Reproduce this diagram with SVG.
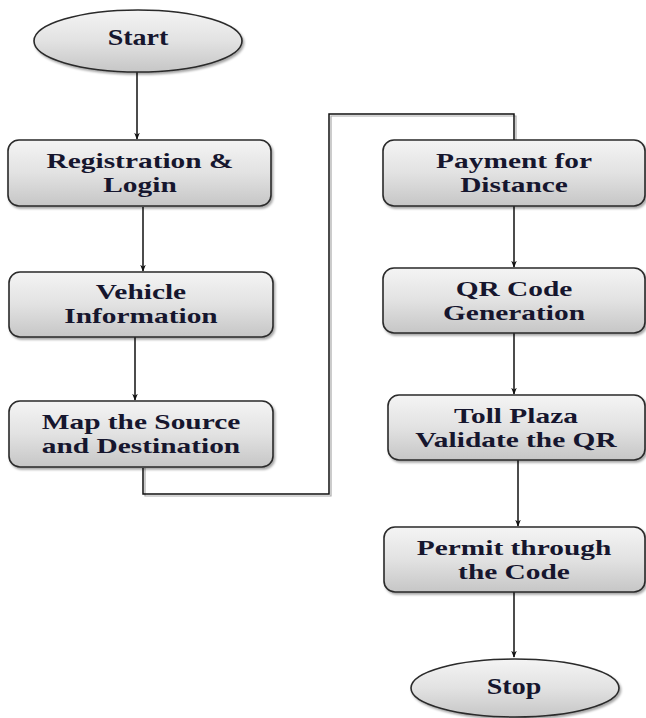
<svg xmlns="http://www.w3.org/2000/svg" width="646" height="718" viewBox="0 0 646 718">
<defs>
<linearGradient id="g" x1="0" y1="0" x2="0" y2="1">
<stop offset="0" stop-color="#f4f4f4"/>
<stop offset="0.5" stop-color="#e2e2e2"/>
<stop offset="1" stop-color="#c6c6c6"/>
</linearGradient>
<filter id="sh" x="-10%" y="-10%" width="120%" height="130%">
<feDropShadow dx="1.5" dy="2" stdDeviation="1.2" flood-color="#000" flood-opacity="0.35"/>
</filter>
<marker id="ah" viewBox="0 0 10 10" refX="9" refY="5" markerWidth="7" markerHeight="7" orient="auto" markerUnits="userSpaceOnUse">
<path d="M0,1 L10,5 L0,9 L3,5 z" fill="#111"/>
</marker>
</defs>
<style>
.box{fill:url(#g);stroke:#2a2a2a;stroke-width:1.6;filter:url(#sh)}
.t{font-family:"Liberation Serif","Times New Roman",serif;font-weight:bold;font-size:21px;fill:#16162e;text-anchor:middle}
.e{font-size:23px}
.c{fill:none;stroke:#111;stroke-width:1.5}
.cs{fill:none;stroke:#aaa;stroke-width:1.2}
</style>
<g id="connectors">
<line class="c" x1="137" y1="72" x2="137" y2="139" marker-end="url(#ah)"/>
<line class="c" x1="143" y1="207" x2="143" y2="271" marker-end="url(#ah)"/>
<line class="c" x1="135" y1="337" x2="135" y2="400" marker-end="url(#ah)"/>
<path class="cs" d="M145,468 V496 H331 V116 H516 V140"/>
<path class="c" d="M143,468 V494 H329 V114 H514 V140"/>
<line class="c" x1="514" y1="206" x2="514" y2="267" marker-end="url(#ah)"/>
<line class="c" x1="514" y1="333" x2="514" y2="394" marker-end="url(#ah)"/>
<line class="c" x1="518" y1="460" x2="518" y2="526" marker-end="url(#ah)"/>
<line class="c" x1="514" y1="592" x2="514" y2="657" marker-end="url(#ah)"/>
</g>
<g id="start">
<ellipse class="box" cx="138" cy="41" rx="104" ry="31"/>
<g transform="translate(138,0) scale(1.22,1)"><text class="t e" x="0" y="45">Start</text></g>
</g>
<g id="registration">
<rect class="box" x="8" y="140" width="263" height="66" rx="11"/>
<g transform="translate(140,0) scale(1.4,1)"><text class="t" x="0" y="168">Registration &amp;</text><text class="t" x="0" y="192">Login</text></g>
</g>
<g id="vehicle">
<rect class="box" x="9" y="272" width="264" height="65" rx="11"/>
<g transform="translate(141,0) scale(1.4,1)"><text class="t" x="0" y="299">Vehicle</text><text class="t" x="0" y="323">Information</text></g>
</g>
<g id="map">
<rect class="box" x="9" y="401" width="264" height="66" rx="11"/>
<g transform="translate(141,0) scale(1.4,1)"><text class="t" x="0" y="429">Map the Source</text><text class="t" x="0" y="453">and Destination</text></g>
</g>
<g id="payment">
<rect class="box" x="383" y="140" width="262" height="66" rx="11"/>
<g transform="translate(514,0) scale(1.4,1)"><text class="t" x="0" y="168">Payment for</text><text class="t" x="0" y="192">Distance</text></g>
</g>
<g id="qr">
<rect class="box" x="383" y="268" width="262" height="65" rx="11"/>
<g transform="translate(514,0) scale(1.4,1)"><text class="t" x="0" y="296">QR Code</text><text class="t" x="0" y="320">Generation</text></g>
</g>
<g id="toll">
<rect class="box" x="388" y="395" width="257" height="65" rx="11"/>
<g transform="translate(516,0) scale(1.4,1)"><text class="t" x="0" y="423">Toll Plaza</text><text class="t" x="0" y="447">Validate the QR</text></g>
</g>
<g id="permit">
<rect class="box" x="384" y="527" width="261" height="65" rx="11"/>
<g transform="translate(514,0) scale(1.4,1)"><text class="t" x="0" y="555">Permit through</text><text class="t" x="0" y="579">the Code</text></g>
</g>
<g id="stop">
<ellipse class="box" cx="515" cy="688" rx="104" ry="29"/>
<g transform="translate(514,0) scale(1.22,1)"><text class="t e" x="0" y="694">Stop</text></g>
</g>
</svg>
